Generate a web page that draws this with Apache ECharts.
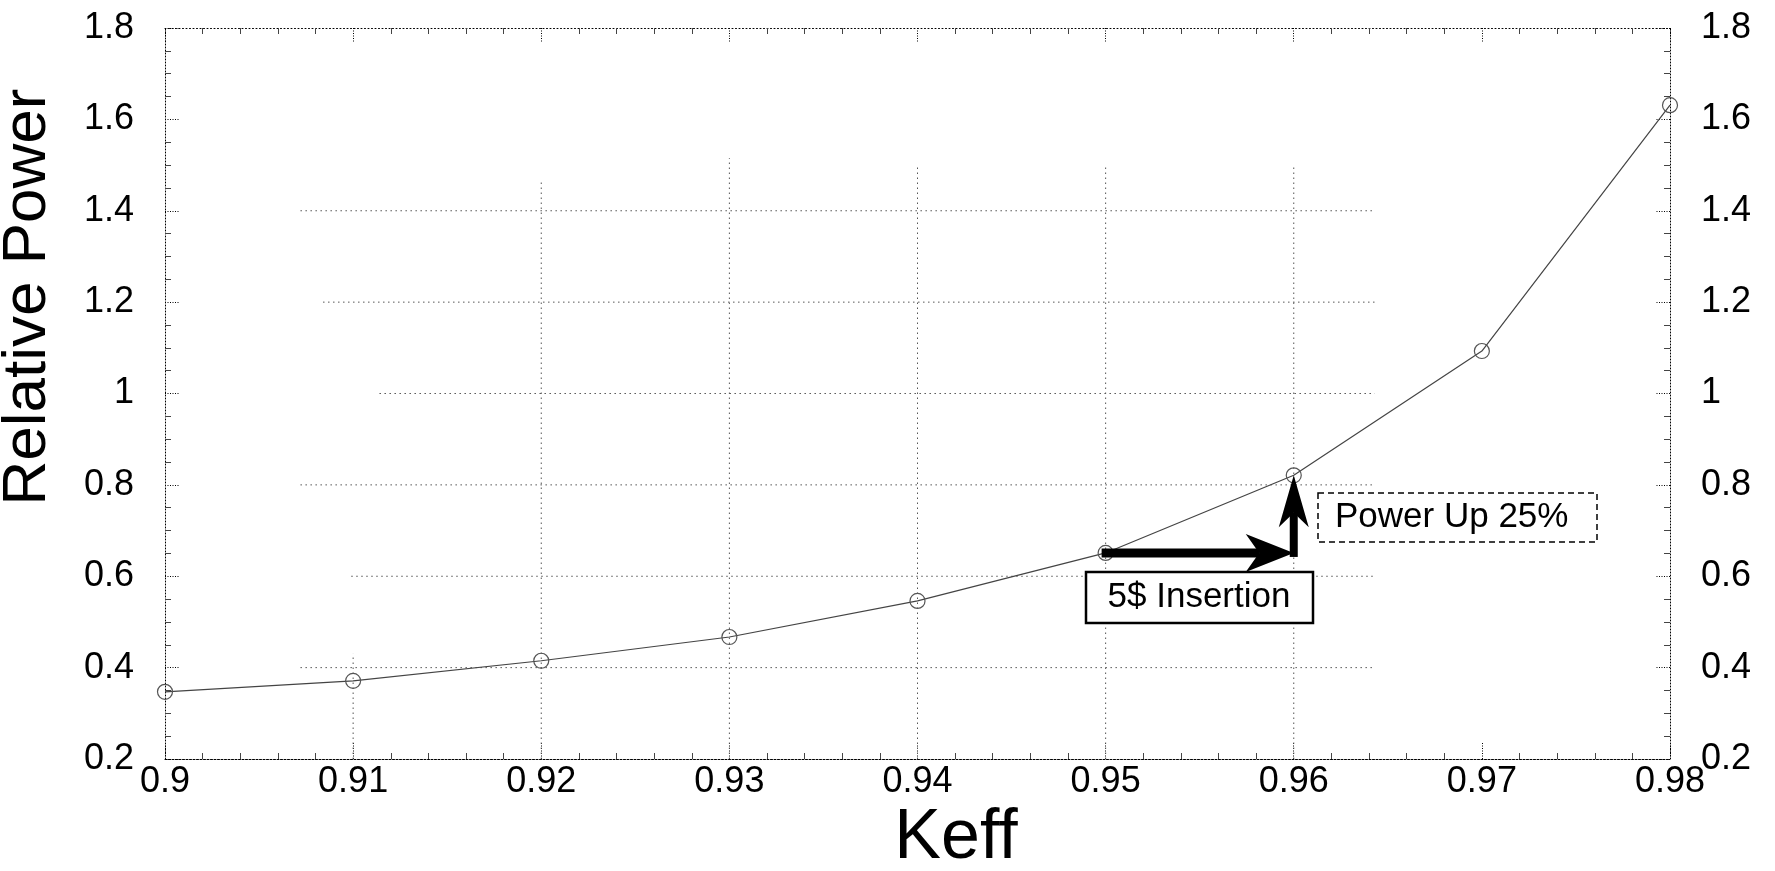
<!DOCTYPE html>
<html>
<head>
<meta charset="utf-8">
<script src="https://cdn.jsdelivr.net/npm/echarts@6/dist/echarts.min.js"></script>
<style>
html,body{margin:0;padding:0;background:#fff;}
#chart{width:1775px;height:871px;}
</style>
</head>
<body>
<div id="chart"></div>
<script>
// ---- data ----
const keff = [0.90, 0.91, 0.92, 0.93, 0.94, 0.95, 0.96, 0.97, 0.98];
const relativePower = [0.347, 0.371, 0.415, 0.467, 0.546, 0.651, 0.821, 1.093, 1.631];
const xTickLabels = ['0.9','0.91','0.92','0.93','0.94','0.95','0.96','0.97','0.98'];
const yTickLabels = ['0.2','0.4','0.6','0.8','1','1.2','1.4','1.6','1.8'];
// annotation arrows: [x0, y0, x1, y1]
const arrows = [[0.95, 0.651, 0.96, 0.651], [0.96, 0.651, 0.96, 0.821]];
// faint background grid segments seen in the scan: [x0, y0, x1, y1]
const ghostGrid = [
  [0.9072, 0.4, 0.9643, 0.4], [0.9099, 0.6, 0.9643, 0.6], [0.9072, 0.8, 0.9643, 0.8],
  [0.9114, 1.0, 0.9643, 1.0], [0.9084, 1.2, 0.9643, 1.2], [0.9072, 1.4, 0.9643, 1.4],
  [0.91, 0.2, 0.91, 0.43], [0.92, 0.2, 0.92, 1.465], [0.93, 0.2, 0.93, 1.515],
  [0.94, 0.2, 0.94, 1.50], [0.95, 0.2, 0.95, 1.50], [0.96, 0.2, 0.96, 1.50]
];
const annotationTexts = ['5$ Insertion', 'Power Up 25%'];

// ---- styles ----
const FONT = "'Liberation Sans', Arial, Helvetica, sans-serif";
const arrowStyles = [{len: 48, half: 19, width: 9}, {len: 52, half: 15, width: 8}];

const chart = echarts.init(document.getElementById('chart'), null, {renderer: 'canvas'});

function segItem(params, api) {
  const p0 = api.coord([api.value(0), api.value(1)]);
  const p1 = api.coord([api.value(2), api.value(3)]);
  return {
    type: 'line',
    shape: {x1: p0[0], y1: p0[1], x2: p1[0], y2: p1[1]},
    style: {stroke: '#555', lineWidth: 1, lineDash: [1.5, 3.5]},
    silent: true
  };
}

function arrowItem(params, api) {
  const p0 = api.coord([api.value(0), api.value(1)]);
  const p1 = api.coord([api.value(2), api.value(3)]);
  const st = arrowStyles[params.dataIndex];
  const dx = p1[0] - p0[0], dy = p1[1] - p0[1];
  const L = Math.hypot(dx, dy);
  const ux = dx / L, uy = dy / L, nx = -uy, ny = ux;
  const bx = p1[0] - ux * st.len, by = p1[1] - uy * st.len;
  const mx = p1[0] - ux * st.len * 0.72, my = p1[1] - uy * st.len * 0.72;
  return {
    type: 'group',
    children: [
      {type: 'line', shape: {x1: p0[0] - ux * 4, y1: p0[1] - uy * 4, x2: mx, y2: my},
       style: {stroke: '#000', lineWidth: st.width}},
      {type: 'polygon', shape: {points: [
        [p1[0], p1[1]],
        [bx + nx * st.half, by + ny * st.half],
        [mx, my],
        [bx - nx * st.half, by - ny * st.half]
      ]}, style: {fill: '#000'}}
    ]
  };
}

const yCommon = {
  type: 'value', min: 0.2, max: 1.8, interval: 0.2,
  axisLine: {show: true, lineStyle: {color: '#000', width: 1, type: [1, 2]}},
  axisTick: {show: true, inside: true, length: 15, lineStyle: {color: '#000', width: 1, type: [1, 1.5]}},
  minorTick: {show: true, splitNumber: 4, length: 6, lineStyle: {color: '#444', width: 1}},
  splitLine: {show: false},
  axisLabel: {
    show: true, fontSize: 36, fontFamily: FONT, color: '#000', margin: 31,
    formatter: function (v, i) { return yTickLabels[i]; }
  }
};

const option = {
  backgroundColor: '#fff',
  animation: false,
  grid: {left: 165, right: 105, top: 28, bottom: 112, containLabel: false},
  xAxis: [
    {
      type: 'value', min: 0.9, max: 0.98, interval: 0.01, position: 'bottom',
      axisLine: {show: true, lineStyle: {color: '#000', width: 1, type: [2, 1.5]}},
      axisTick: {show: true, inside: true, length: 16, lineStyle: {color: '#000', width: 1, type: [1, 1.5]}},
      minorTick: {show: true, splitNumber: 5, length: 6, lineStyle: {color: '#444', width: 1}},
      splitLine: {show: false},
      axisLabel: {
        show: true, fontSize: 36, fontFamily: FONT, color: '#000', margin: 5,
        formatter: function (v, i) { return xTickLabels[i]; }
      }
    },
    {
      type: 'value', min: 0.9, max: 0.98, interval: 0.01, position: 'top',
      axisLine: {show: true, lineStyle: {color: '#000', width: 1, type: [1, 2.5]}},
      axisTick: {show: true, inside: true, length: 15, lineStyle: {color: '#000', width: 1, type: [1, 1.5]}},
      minorTick: {show: true, splitNumber: 5, length: 6, lineStyle: {color: '#444', width: 1}},
      splitLine: {show: false},
      axisLabel: {show: false}
    }
  ],
  yAxis: [
    Object.assign({}, yCommon, {position: 'left'}),
    Object.assign({}, yCommon, {position: 'right'})
  ],
  series: [
    {
      type: 'custom', name: 'ghost', xAxisIndex: 0, yAxisIndex: 0,
      renderItem: segItem, data: ghostGrid, encode: {x: [0, 2], y: [1, 3]},
      silent: true, z: 1
    },
    {
      type: 'line', name: 'Relative Power', xAxisIndex: 0, yAxisIndex: 0,
      data: keff.map(function (k, i) { return [k, relativePower[i]]; }),
      smooth: false, clip: false,
      symbol: 'circle', symbolSize: 15, showAllSymbol: true,
      lineStyle: {color: '#444', width: 1.2},
      itemStyle: {color: 'rgba(255,255,255,0)', borderColor: '#555', borderWidth: 1.2},
      z: 3
    },
    {
      type: 'custom', name: 'arrows', xAxisIndex: 0, yAxisIndex: 0,
      renderItem: arrowItem, data: arrows, encode: {x: [0, 2], y: [1, 3]},
      silent: true, z: 5
    }
  ],
  graphic: [
    {
      type: 'text', x: 28, y: 297, rotation: Math.PI / 2,
      style: {text: 'Relative Power', fontSize: 62, fontFamily: FONT, fill: '#000',
              align: 'center', verticalAlign: 'middle'}
    },
    {
      type: 'text', x: 956, y: 839,
      style: {text: 'Keff', fontSize: 70, fontFamily: FONT, fill: '#000',
              align: 'center', verticalAlign: 'middle'}
    },
    {
      type: 'rect', shape: {x: 1086, y: 572, width: 227, height: 51},
      style: {fill: '#fff', stroke: '#000', lineWidth: 2.5}, z: 10
    },
    {
      type: 'text', x: 1199, y: 597, z: 11,
      style: {text: annotationTexts[0], fontSize: 35, fontFamily: FONT, fill: '#000',
              align: 'center', verticalAlign: 'middle'}
    },
    {
      type: 'rect', shape: {x: 1318, y: 493, width: 279, height: 49},
      style: {fill: '#fff', stroke: '#000', lineWidth: 1.5, lineDash: [6, 4]}, z: 10
    },
    {
      type: 'text', x: 1335, y: 517, z: 11,
      style: {text: annotationTexts[1], fontSize: 35, fontFamily: FONT, fill: '#000',
              align: 'left', verticalAlign: 'middle'}
    }
  ]
};

chart.setOption(option);
</script>
</body>
</html>
